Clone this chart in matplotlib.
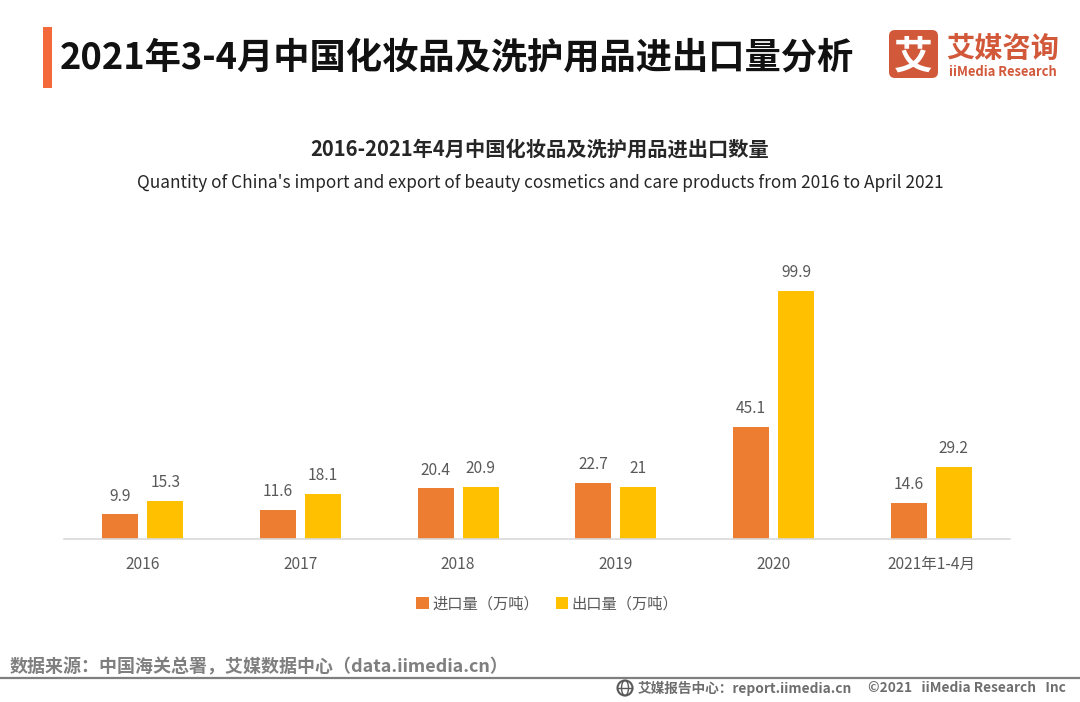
import numpy as np
import matplotlib.pyplot as plt
from matplotlib.patches import Rectangle, FancyBboxPatch, Ellipse

plt.rcParams['font.family'] = ['Noto Sans CJK SC', 'DejaVu Sans']

# Data
categories = ["2016", "2017", "2018", "2019", "2020", "2021年1-4月"]
imports = [9.9, 11.6, 20.4, 22.7, 45.1, 14.6]
exports = [15.3, 18.1, 20.9, 21, 99.9, 29.2]
import_labels = ["9.9", "11.6", "20.4", "22.7", "45.1", "14.6"]
export_labels = ["15.3", "18.1", "20.9", "21", "99.9", "29.2"]

W, H = 1080, 702
ORANGE = "#ED7D31"
YELLOW = "#FFC000"
GREY = "#595959"

fig = plt.figure(figsize=(W / 100, H / 100), dpi=100, facecolor="white")

# Background axes in pixel coordinates, for header and footer
bg = fig.add_axes([0, 0, 1, 1])
bg.set_xlim(0, W)
bg.set_ylim(H, 0)
bg.axis("off")

bg.add_patch(Rectangle((43, 27), 9, 61, color="#F4693A", lw=0))
bg.text(60, 58, "2021年3-4月中国化妆品及洗护用品进出口量分析", fontsize=26.15,
        fontweight="bold", color="#111111", va="center", ha="left")

# Logo
bg.add_patch(FancyBboxPatch((889, 30), 49, 48, boxstyle="round,pad=0,rounding_size=6",
                            color="#D2583A", lw=0))
bg.text(913.5, 57, "艾", fontsize=28, fontweight="bold", color="white", ha="center", va="center")
bg.text(946, 49, "艾媒咨询", fontsize=20.3, fontweight="bold", color="#D2583A", ha="left", va="center")
bg.text(949, 72, "iiMedia Research", fontsize=9.3, fontweight="bold", color="#D2583A",
        ha="left", va="center")

# Chart titles
bg.text(540, 149, "2016-2021年4月中国化妆品及洗护用品进出口数量", fontsize=14.55,
        fontweight="bold", color="#262626", ha="center", va="center")
bg.text(540, 183, "Quantity of China's import and export of beauty cosmetics and care products from 2016 to April 2021",
        fontsize=12.4, color="#262626", ha="center", va="center")

# Bars
ax = fig.add_axes([64 / W, 1 - 539 / H, 946 / W, 300 / H])
ax.patch.set_alpha(0)
x = np.arange(len(categories))
bar_w = 0.228
off = 0.143
b1 = ax.bar(x - off, imports, bar_w, color=ORANGE, label="进口量（万吨）")
b2 = ax.bar(x + off, exports, bar_w, color=YELLOW, label="出口量（万吨）")
ax.bar_label(b1, labels=import_labels, padding=7, fontsize=11.2, color=GREY)
ax.bar_label(b2, labels=export_labels, padding=7, fontsize=11.2, color=GREY)
ax.set_xlim(-0.5, 5.5)
ax.set_ylim(0, 300 / 2.4825)
ax.set_xticks(x)
ax.set_xticklabels(categories, fontsize=11.2, color=GREY)
ax.tick_params(axis="x", length=0, pad=12)
ax.set_yticks([])
for s in ["top", "left", "right"]:
    ax.spines[s].set_visible(False)
ax.spines["bottom"].set_color("#D9D9D9")
ax.spines["bottom"].set_linewidth(1.2)

ax.legend(loc="upper center", bbox_to_anchor=(0.511, -0.188), bbox_transform=ax.transAxes,
          ncol=2, frameon=False, fontsize=11, labelcolor=GREY, handlelength=0.8, handleheight=0.8,
          handletextpad=0.25, columnspacing=1.07, borderpad=0, borderaxespad=0)

# Footer
bg.text(10, 667.5, "数据来源：中国海关总署，艾媒数据中心（data.iimedia.cn）", fontsize=12.95,
        fontweight="bold", color="#7F7F7F", ha="left", va="center")
bg.plot([0, W], [678, 678], color="#7F7F7F", lw=1.6)
bg.add_patch(Ellipse((625, 688), 15, 15, fc="white", ec="#595959", lw=1.5))
bg.add_patch(Ellipse((625, 688), 7, 15, fc="none", ec="#595959", lw=1))
bg.plot([618, 632], [688, 688], color="#595959", lw=1)
bg.text(638, 688.5, "艾媒报告中心：report.iimedia.cn", fontsize=9.85, fontweight="bold",
        color="#6E6E6E", ha="left", va="center")
bg.text(1066, 688.5, "©2021   iiMedia Research   Inc", fontsize=9.85, fontweight="bold",
        color="#6E6E6E", ha="right", va="center")

fig.savefig("out.png", dpi=100)
